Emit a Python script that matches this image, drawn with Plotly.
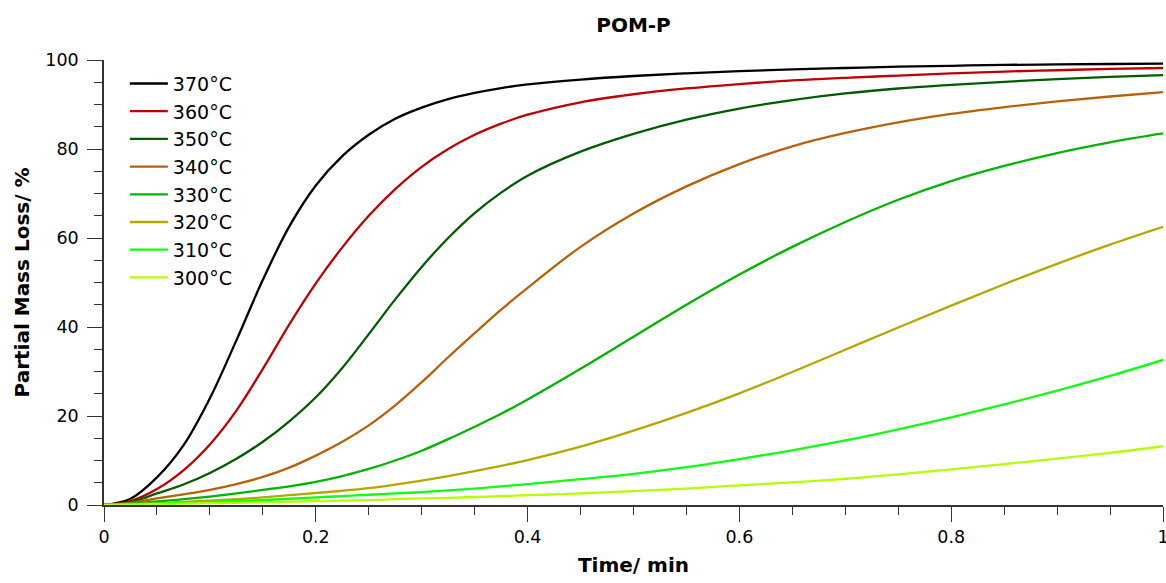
import plotly.graph_objects as go

# Time axis (min)
time_min = [0, 0.025, 0.05, 0.075, 0.1, 0.125, 0.15, 0.175, 0.2, 0.225, 0.25, 0.275, 0.3,
            0.325, 0.35, 0.375, 0.4, 0.45, 0.5, 0.55, 0.6, 0.65, 0.7, 0.75, 0.8, 0.85, 0.9, 0.95, 1.0]

# Partial mass loss (%) per isothermal temperature
loss_370 = [0, 1.4, 6.2, 13.4, 24.0, 37.0, 50.6, 62.6, 71.8, 78.4, 83.2, 86.8, 89.3,
            91.2, 92.6, 93.7, 94.5, 95.6, 96.4, 97.0, 97.5, 97.9, 98.2, 98.5, 98.7, 98.9, 99.0, 99.1, 99.2]
loss_360 = [0, 0.9, 3.6, 7.8, 13.6, 21.2, 30.6, 40.6, 49.8, 57.9, 65.0, 71.0, 76.0,
            80.0, 83.2, 85.7, 87.7, 90.5, 92.3, 93.6, 94.6, 95.4, 96.0, 96.5, 97.0, 97.4, 97.7, 98.0, 98.2]
loss_350 = [0, 0.6, 2.6, 4.6, 7.2, 10.4, 14.2, 18.8, 24.2, 30.8, 38.4, 46.2, 53.5,
            60.0, 65.6, 70.2, 74.0, 79.4, 83.4, 86.6, 89.1, 91.0, 92.5, 93.6, 94.4, 95.1, 95.7, 96.2, 96.6]
loss_340 = [0, 0.5, 1.5, 2.4, 3.4, 4.7, 6.3, 8.4, 11.1, 14.2, 17.9, 22.4, 27.6,
            33.2, 38.6, 43.9, 48.8, 58.0, 65.5, 71.6, 76.6, 80.6, 83.6, 86.0, 87.9, 89.4, 90.7, 91.8, 92.8]
loss_330 = [0, 0.3, 0.8, 1.3, 1.9, 2.6, 3.4, 4.2, 5.2, 6.5, 8.1, 10.0, 12.2,
            14.8, 17.6, 20.5, 23.7, 30.6, 37.8, 45.0, 51.8, 58.0, 63.6, 68.6, 72.8, 76.2, 79.1, 81.5, 83.5]
loss_320 = [0, 0.2, 0.4, 0.7, 1.0, 1.3, 1.7, 2.2, 2.7, 3.2, 3.8, 4.6, 5.5,
            6.5, 7.6, 8.8, 10.1, 13.1, 16.7, 20.7, 25.1, 29.9, 34.9, 39.9, 44.8, 49.6, 54.2, 58.5, 62.5]
loss_310 = [0, 0.1, 0.3, 0.5, 0.7, 0.9, 1.1, 1.4, 1.7, 2.0, 2.3, 2.6, 2.9,
            3.3, 3.7, 4.2, 4.7, 5.8, 7.0, 8.5, 10.3, 12.3, 14.5, 17.0, 19.7, 22.6, 25.7, 29.0, 32.6]
loss_300 = [0, 0.1, 0.2, 0.3, 0.4, 0.5, 0.6, 0.7, 0.9, 1.0, 1.1, 1.3, 1.5,
            1.6, 1.8, 2.0, 2.2, 2.6, 3.1, 3.7, 4.4, 5.1, 5.9, 6.9, 8.0, 9.2, 10.4, 11.7, 13.2]

series_names = ["370°C", "360°C", "350°C", "340°C", "330°C", "320°C", "310°C", "300°C"]
series_values = [loss_370, loss_360, loss_350, loss_340, loss_330, loss_320, loss_310, loss_300]
series_colors = ["#000000", "#c00000", "#005c00", "#b8600a", "#00b400", "#b4a800", "#10ff10", "#b4ff00"]

FONT = "DejaVu Sans"

fig = go.Figure()
for name, vals, col in zip(series_names, series_values, series_colors):
    fig.add_trace(go.Scatter(
        x=time_min, y=vals, name=name, mode="lines",
        line=dict(color=col, width=2.3, shape="spline", smoothing=1.0),
    ))

axis_common = dict(
    showgrid=False, zeroline=False, showline=True, automargin=False,
    linecolor="#333333", linewidth=1.5,
    ticks="outside", ticklen=15, tickwidth=1.2, tickcolor="#333333",
    tickfont=dict(family=FONT, size=17.5, color="#000000"),
    ticklabeloverflow="allow",
)

fig.update_layout(
    width=1166, height=583,
    margin=dict(l=104, r=3, t=60, b=78),
    paper_bgcolor="white", plot_bgcolor="white",
    title=dict(text="<b>POM-P</b>", x=(104 + 1059 / 2) / 1166, xanchor="center",
               y=1 - 25 / 583, yanchor="middle",
               font=dict(family=FONT, size=20, color="#000000")),
    xaxis=dict(
        range=[0, 1], tickmode="array",
        tickvals=[0, 0.2, 0.4, 0.6, 0.8, 1.0], ticktext=["0", "0.2", "0.4", "0.6", "0.8", "1"],
        minor=dict(dtick=0.05, tick0=0, ticks="outside", ticklen=8, tickwidth=1.2, tickcolor="#333333"),
        title=dict(text="<b>Time/ min</b>", font=dict(family=FONT, size=20, color="#000000"), standoff=12),
        **axis_common,
    ),
    yaxis=dict(
        range=[0, 100], dtick=20, tick0=0, ticklabelstandoff=5,
        minor=dict(dtick=5, tick0=0, ticks="outside", ticklen=8, tickwidth=1.2, tickcolor="#333333"),
        title=dict(text="<b>Partial Mass Loss/ %</b>", font=dict(family=FONT, size=20, color="#000000"), standoff=10),
        **axis_common,
    ),
    legend=dict(
        x=0.0197, y=0.9895, xanchor="left", yanchor="top",
        bgcolor="rgba(255,255,255,0)", borderwidth=0,
        font=dict(family=FONT, size=19, color="#000000"),
        tracegroupgap=0, itemwidth=38,
    ),
    showlegend=True,
)

fig.write_html("out.html")
